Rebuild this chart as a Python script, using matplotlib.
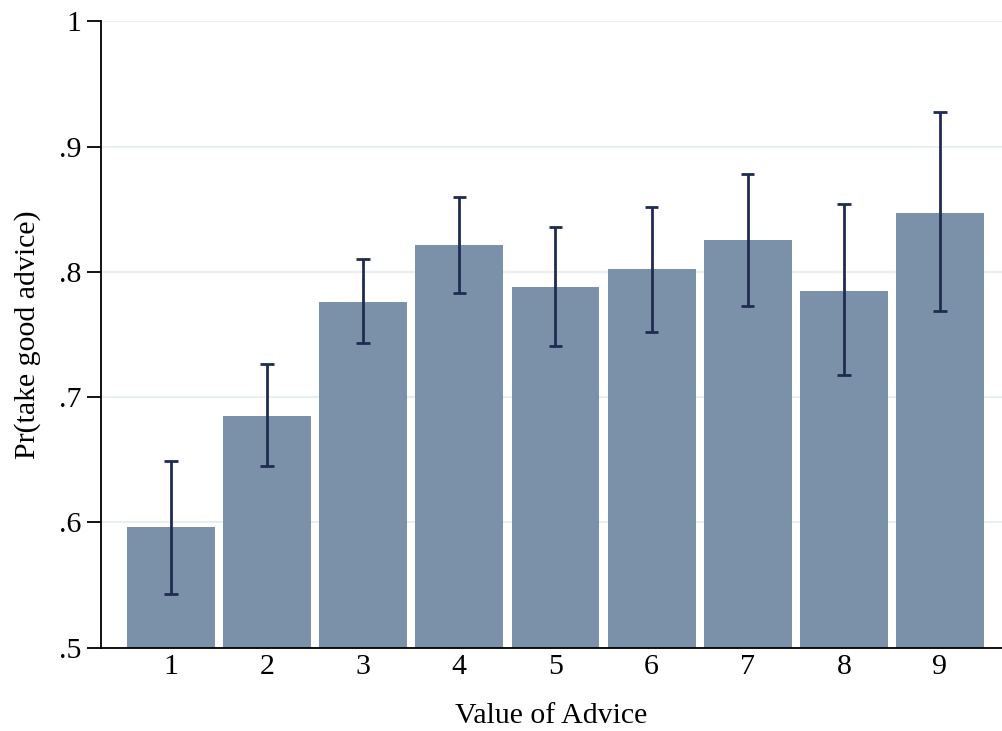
import matplotlib
matplotlib.use("Agg")
import matplotlib.pyplot as plt
import numpy as np

categories = [1, 2, 3, 4, 5, 6, 7, 8, 9]
means = [0.596, 0.685, 0.776, 0.821, 0.788, 0.802, 0.825, 0.785, 0.847]
ci_low = [0.543, 0.645, 0.743, 0.783, 0.741, 0.752, 0.773, 0.7175, 0.7686]
ci_high = [0.649, 0.726, 0.810, 0.860, 0.836, 0.852, 0.878, 0.854, 0.9274]
yticks = [0.5, 0.6, 0.7, 0.8, 0.9, 1.0]
ytick_labels = [".5", ".6", ".7", ".8", ".9", "1"]

plt.rcParams['font.family'] = ['Liberation Serif', 'DejaVu Serif']

fig = plt.figure(figsize=(10.02, 7.31), dpi=100)
ax = fig.add_axes([0.1005, 0.1142, 0.8995, 0.8567])

x = np.array(categories)
base = 0.5
ax.bar(x, np.array(means) - base, bottom=base, width=0.915, color="#7b91a9", zorder=2)
for xi, lo, hi in zip(x, ci_low, ci_high):
    ax.plot([xi, xi], [lo, hi], color="#1e2c52", lw=2, zorder=3, solid_capstyle="butt")
    ax.plot([xi - 0.07, xi + 0.07], [lo, lo], color="#1e2c52", lw=2, zorder=3, solid_capstyle="butt")
    ax.plot([xi - 0.07, xi + 0.07], [hi, hi], color="#1e2c52", lw=2, zorder=3, solid_capstyle="butt")

ax.set_xlim(0.269, 9.645)
ax.set_ylim(0.5, 1.0)
ax.set_yticks(yticks)
ax.set_yticklabels(ytick_labels)
ax.set_xticks(categories)
ax.set_xticklabels([str(c) for c in categories])
ax.tick_params(axis="y", length=10, width=1.3, labelsize=21.5, pad=4)
ax.tick_params(axis="x", length=0, labelsize=21.5, pad=5)
ax.yaxis.grid(True, color="#e8eff1", lw=1.5, zorder=0)
ax.set_axisbelow(True)
for s in ["top", "right"]:
    ax.spines[s].set_visible(False)
for s in ["left", "bottom"]:
    ax.spines[s].set_linewidth(1.3)
ax.set_xlabel("Value of Advice", fontsize=21.5, labelpad=16)
ax.set_ylabel("Pr(take good advice)", fontsize=21.5, labelpad=13)

fig.savefig("out.png", dpi=100)
